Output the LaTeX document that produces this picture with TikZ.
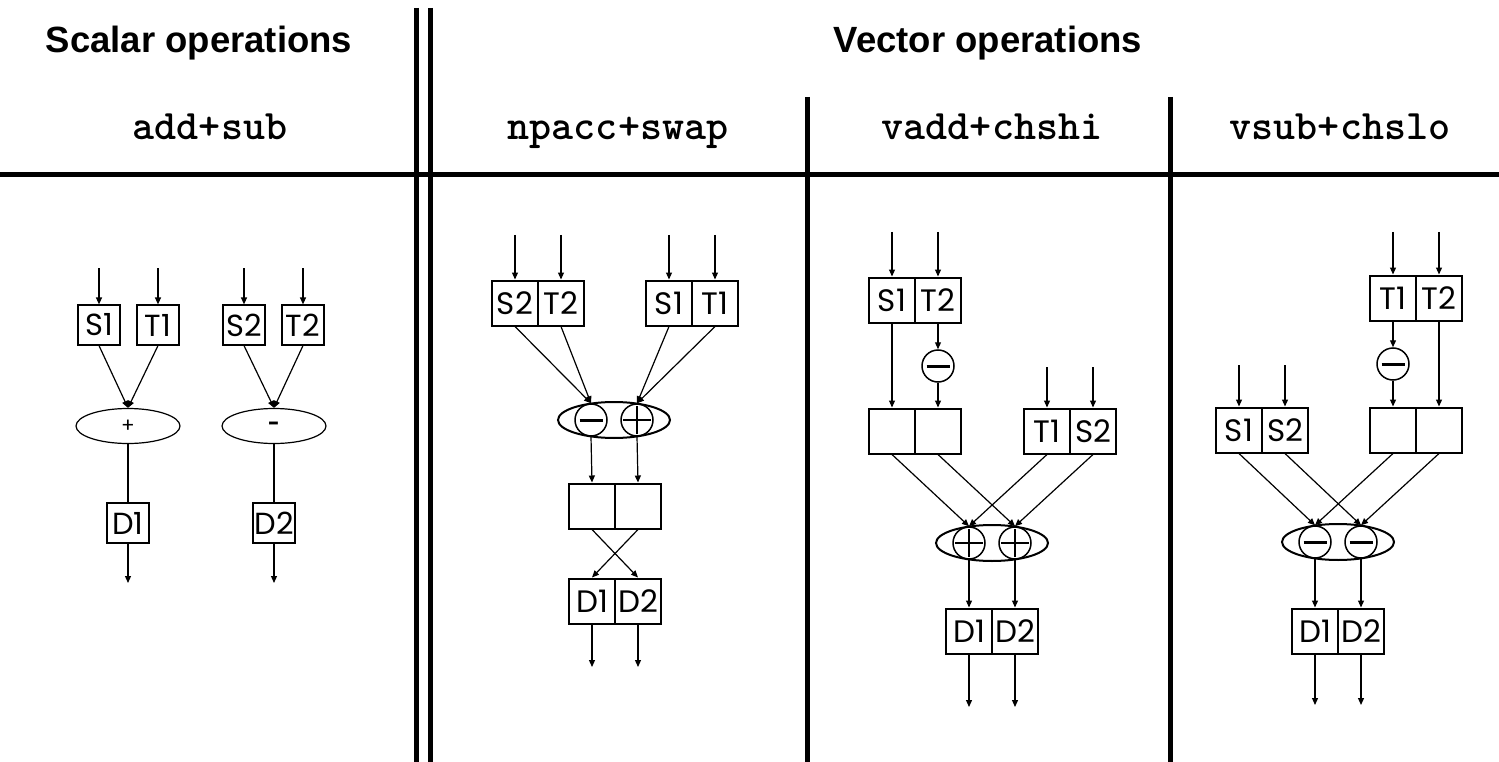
\documentclass[tikz,border=0pt]{standalone}
\usepackage{fontspec}
\usetikzlibrary{arrows.meta,shapes.geometric}
\newfontfamily\titlefont{Liberation Sans}
\newfontfamily\labfont{Poppins}
\begin{document}
\begin{tikzpicture}[x=1pt,y=-1pt,
  arr/.style={-{Triangle[length=7pt,width=6pt]}, line width=1.2pt},
  plain/.style={line width=1.2pt},
  rule/.style={line width=5pt},
  ttl/.style={font=\titlefont\bfseries\fontsize{36.5}{40}\selectfont, anchor=base},
  code/.style={font=\ttfamily\bfseries\fontsize{42}{44}\selectfont, anchor=base},
  sbox/.style={draw, line width=1.2pt, minimum width=42pt, minimum height=40pt, inner sep=0pt, font=\labfont\fontsize{30.5}{31}\selectfont},
  cell/.style={draw, line width=2pt, minimum width=46pt, minimum height=45pt, inner sep=0pt, font=\labfont\fontsize{31}{31}\selectfont},
  sop/.style={draw, ellipse, line width=1.2pt, minimum width=104pt, minimum height=35pt, inner sep=0pt, font=\labfont\fontsize{20}{20}\selectfont},
  vop/.style={draw, ellipse, line width=2pt, minimum width=112pt, minimum height=36pt, inner sep=0pt},
  circ/.style={draw, circle, line width=1.5pt, minimum size=32pt, inner sep=0pt},
  minusop/.style={circ, path picture={\draw[line width=3pt] ([xshift=-11.5pt]path picture bounding box.center) -- ([xshift=11.5pt]path picture bounding box.center);}},
  plusop/.style={circ, path picture={\draw[line width=1.5pt] ([xshift=-14pt]path picture bounding box.center) -- ([xshift=14pt]path picture bounding box.center) ([yshift=-14pt]path picture bounding box.center) -- ([yshift=14pt]path picture bounding box.center);}}
]
\useasboundingbox (0,0) rectangle (1499,762);

% ---------- frame ----------
\draw[rule] (0,175) -- (1499,175);
\draw[rule] (416,8) -- (416,762);
\draw[rule] (430,8) -- (430,762);
\draw[rule] (807,97) -- (807,762);
\draw[rule] (1170,97) -- (1170,762);

\node[ttl] (tsc) at (199,53) {Scalar operations};
\node[ttl] (tvc) at (988,53) {Vector operations};
\node[code] (h1) at (210,140) {add+sub};
\node[code] (h2) at (618,140) {npacc+swap};
\node[code] (h3) at (992,140) {vadd+chshi};
\node[code] (h4) at (1340,140) {vsub+chslo};

% ---------- scalar ----------
\node[sbox] (s1) at (99,325) {S1};
\node[sbox] (t1) at (158,325) {T1};
\node[sbox] (s2) at (244,325) {S2};
\node[sbox] (t2) at (303,325) {T2};
\node[sop] (add) at (128,426) {+};
\node[sop] (sub) at (274,426) {\textbf{-}};
\node[sbox] (d1) at (128,523) {D1};
\node[sbox] (d2) at (274,523) {D2};
\coordinate (is1) at (99,268);
\coordinate (it1) at (158,268);
\coordinate (is2) at (244,268);
\coordinate (it2) at (303,268);
\coordinate (od1) at (128,583);
\coordinate (od2) at (274,583);
\draw[arr] (is1) -- (s1);
\draw[arr] (it1) -- (t1);
\draw[arr] (is2) -- (s2);
\draw[arr] (it2) -- (t2);
\draw[arr] (s1.south) -- (add.north);
\draw[arr] (t1.south) -- (add.north);
\draw[arr] (s2.south) -- (sub.north);
\draw[arr] (t2.south) -- (sub.north);
\draw[plain] (add.south) -- (d1.north);
\draw[plain] (sub.south) -- (d2.north);
\draw[arr] (d1.south) -- (od1);
\draw[arr] (d2.south) -- (od2);

% ---------- npacc+swap ----------
\node[cell] (as2) at (515,303) {S2};
\node[cell] (at2) at (561,303) {T2};
\node[cell] (as1) at (669,303) {S1};
\node[cell] (at1) at (715,303) {T1};
\node[vop] (aop) at (614,420) {};
\node[minusop] (am) at (591,420) {};
\node[plusop] (ap) at (637,420) {};
\node[cell] (am1) at (592,506) {};
\node[cell] (am2) at (638,506) {};
\node[cell] (ad1) at (592,601) {D1};
\node[cell] (ad2) at (638,601) {D2};
\coordinate (ais2) at (515,235);
\coordinate (ait2) at (561,235);
\coordinate (ais1) at (669,235);
\coordinate (ait1) at (715,235);
\coordinate (aod1) at (592,667);
\coordinate (aod2) at (638,667);
\draw[arr] (ais2) -- (as2);
\draw[arr] (ait2) -- (at2);
\draw[arr] (ais1) -- (as1);
\draw[arr] (ait1) -- (at1);
\draw[arr] (as2.south) -- (am.north);
\draw[arr] (at2.south) -- (am.north);
\draw[arr] (as1.south) -- (ap.north);
\draw[arr] (at1.south) -- (ap.north);
\draw[arr] (am.south) -- (am1.north);
\draw[arr] (ap.south) -- (am2.north);
\draw[arr] (am1.south) -- (ad2.north);
\draw[arr] (am2.south) -- (ad1.north);
\draw[arr] (ad1.south) -- (aod1);
\draw[arr] (ad2.south) -- (aod2);

% ---------- vadd+chshi ----------
\node[cell] (bs1) at (892,300) {S1};
\node[cell] (bt2) at (938,300) {T2};
\node[minusop] (bn) at (938,366) {};
\node[cell] (bm1) at (892,431) {};
\node[cell] (bm2) at (938,431) {};
\node[cell] (bt1) at (1047,431) {T1};
\node[cell] (bs2) at (1093,431) {S2};
\node[vop] (bop) at (992,543) {};
\node[plusop] (bp1) at (969,543) {};
\node[plusop] (bp2) at (1015,543) {};
\node[cell] (bd1) at (969,631) {D1};
\node[cell] (bd2) at (1015,631) {D2};
\coordinate (bis1) at (892,232);
\coordinate (bit2) at (938,232);
\coordinate (bit1) at (1047,367);
\coordinate (bis2) at (1093,367);
\coordinate (bod1) at (969,707);
\coordinate (bod2) at (1015,707);
\draw[arr] (bis1) -- (bs1);
\draw[arr] (bit2) -- (bt2);
\draw[arr] (bs1.south) -- (bm1.north);
\draw[arr] (bt2.south) -- (bn.north);
\draw[arr] (bn.south) -- (bm2.north);
\draw[arr] (bit1) -- (bt1);
\draw[arr] (bis2) -- (bs2);
\draw[arr] (bm1.south) -- (bp1.north);
\draw[arr] (bm2.south) -- (bp2.north);
\draw[arr] (bt1.south) -- (bp1.north);
\draw[arr] (bs2.south) -- (bp2.north);
\draw[arr] (bp1.south) -- (bd1.north);
\draw[arr] (bp2.south) -- (bd2.north);
\draw[arr] (bd1.south) -- (bod1);
\draw[arr] (bd2.south) -- (bod2);

% ---------- vsub+chslo ----------
\node[cell] (ct1) at (1393,298) {T1};
\node[cell] (ct2) at (1439,298) {T2};
\node[minusop] (cn) at (1393,364) {};
\node[cell] (cm1) at (1393,430) {};
\node[cell] (cm2) at (1439,430) {};
\node[cell] (cs1) at (1239,430) {S1};
\node[cell] (cs2) at (1285,430) {S2};
\node[vop] (cop) at (1338,542) {};
\node[minusop] (cn1) at (1315,542) {};
\node[minusop] (cn2) at (1361,542) {};
\node[cell] (cd1) at (1315,631) {D1};
\node[cell] (cd2) at (1361,631) {D2};
\coordinate (cit1) at (1393,232);
\coordinate (cit2) at (1439,232);
\coordinate (cis1) at (1239,365);
\coordinate (cis2) at (1285,365);
\coordinate (cod1) at (1315,705);
\coordinate (cod2) at (1361,705);
\draw[arr] (cit1) -- (ct1);
\draw[arr] (cit2) -- (ct2);
\draw[arr] (ct1.south) -- (cn.north);
\draw[arr] (cn.south) -- (cm1.north);
\draw[arr] (ct2.south) -- (cm2.north);
\draw[arr] (cis1) -- (cs1);
\draw[arr] (cis2) -- (cs2);
\draw[arr] (cs1.south) -- (cn1.north);
\draw[arr] (cs2.south) -- (cn2.north);
\draw[arr] (cm1.south) -- (cn1.north);
\draw[arr] (cm2.south) -- (cn2.north);
\draw[arr] (cn1.south) -- (cd1.north);
\draw[arr] (cn2.south) -- (cd2.north);
\draw[arr] (cd1.south) -- (cod1);
\draw[arr] (cd2.south) -- (cod2);
\end{tikzpicture}
\end{document}
